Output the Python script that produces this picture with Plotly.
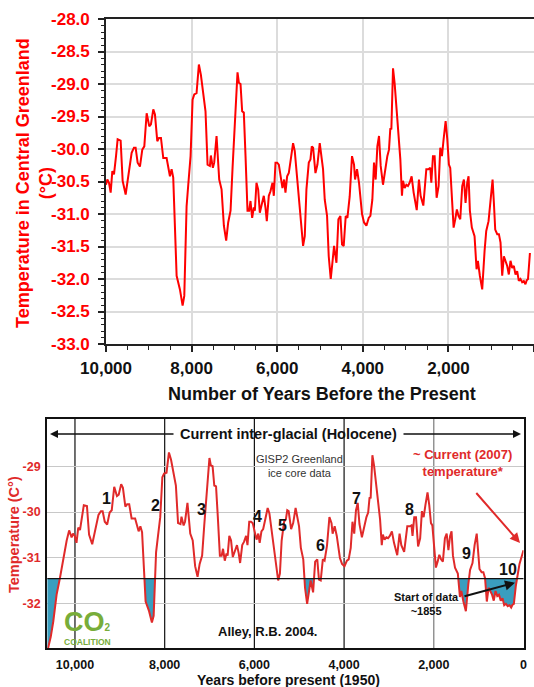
import plotly.graph_objects as go

W, H = 534, 687

# ---------------- data (years before present, temperature in degC) ----------------
YEARS = [10000, 9969, 9930, 9891, 9852, 9813, 9766, 9728, 9658, 9611, 9541, 9455, 9401, 9347,
         9308, 9261, 9207, 9152, 9105, 9050, 8989, 8950, 8895, 8856, 8802, 8763, 8716, 8662,
         8584, 8506, 8467, 8429, 8350, 8273, 8210, 8171, 8117, 8078, 8024, 7977, 7938, 7884,
         7830, 7783, 7729, 7675, 7627, 7573, 7550, 7503, 7472, 7417, 7355, 7300, 7246, 7192,
         7145, 7090, 7043, 7005, 6966, 6927, 6896, 6857, 6819, 6780, 6740, 6694, 6655, 6624,
         6585, 6546, 6522, 6484, 6445, 6406, 6367, 6313, 6274, 6243, 6196, 6157, 6110, 6079,
         6040, 6001, 5962, 5916, 5877, 5838, 5807, 5768, 5729, 5683, 5629, 5590, 5535, 5481,
         5434, 5395, 5356, 5317, 5262, 5223, 5192, 5161, 5106, 5060, 5006, 4967, 4929, 4889,
         4835, 4796, 4749, 4695, 4671, 4616, 4570, 4523, 4485, 4446, 4399, 4360, 4306, 4252,
         4205, 4181, 4135, 4088, 4018, 3971, 3916, 3862, 3823, 3777, 3738, 3699, 3660, 3621,
         3582, 3528, 3473, 3427, 3388, 3357, 3333, 3294, 3256, 3201, 3170, 3123, 3085, 3061,
         3022, 2983, 2945, 2906, 2859, 2812, 2740, 2688, 2649, 2586, 2516, 2462, 2423, 2399,
         2361, 2322, 2275, 2229, 2190, 2151, 2112, 2065, 2026, 1988, 1957, 1918, 1878, 1840,
         1802, 1763, 1723, 1677, 1638, 1599, 1561, 1529, 1498, 1452, 1389, 1342, 1311, 1265,
         1210, 1155, 1116, 1062, 1015, 968, 937, 906, 859, 820, 782, 743, 704, 673, 626, 588,
         549, 510, 471, 432, 393, 355, 316, 276, 238, 200, 170, 140, 120, 95]
TEMPS = [-30.55, -30.47, -30.52, -30.67, -30.34, -30.39, -30.11, -29.85, -29.87, -30.49, -30.70,
         -30.26, -30.06, -29.98, -29.98, -30.21, -30.27, -30.01, -29.96, -29.45, -29.65, -29.62,
         -29.39, -29.47, -29.88, -29.83, -29.83, -30.14, -30.14, -30.42, -30.31, -30.44, -31.95,
         -32.16, -32.41, -32.26, -30.88, -30.55, -30.11, -29.24, -29.16, -29.14, -28.70, -28.86,
         -29.19, -29.42, -30.24, -30.26, -30.10, -30.29, -30.21, -29.80, -30.47, -30.62, -31.18,
         -31.41, -31.13, -30.95, -30.29, -29.80, -29.14, -28.82, -28.98, -29.00, -29.42, -29.44,
         -30.11, -30.95, -30.95, -30.80, -31.06, -30.90, -30.95, -30.52, -30.62, -30.98, -30.87,
         -30.72, -30.90, -31.11, -30.72, -30.65, -30.52, -30.72, -30.21, -30.21, -30.24, -30.44,
         -30.60, -30.47, -30.67, -30.42, -30.37, -30.16, -29.91, -30.03, -30.47, -30.83, -31.24,
         -31.49, -31.34, -30.62, -30.21, -30.16, -29.96, -29.98, -30.37, -30.24, -29.91, -30.14,
         -30.31, -30.78, -31.03, -31.65, -32.00, -31.65, -31.49, -31.75, -31.08, -31.03, -31.47,
         -31.49, -31.03, -31.06, -30.73, -30.11, -30.24, -30.47, -30.31, -30.52, -31.00, -31.13,
         -31.18, -31.06, -31.03, -30.78, -30.21, -30.47, -29.96, -29.80, -30.26, -30.55, -30.29,
         -30.11, -30.01, -29.68, -29.70, -28.76, -28.99, -29.50, -29.70, -30.16, -30.72, -30.49,
         -30.60, -30.55, -30.57, -30.52, -30.42, -30.67, -30.94, -30.47, -30.72, -30.87, -30.31,
         -30.31, -30.29, -30.52, -30.11, -30.11, -30.75, -30.57, -29.98, -30.11, -29.85, -29.57,
         -29.85, -30.24, -30.29, -30.78, -31.21, -31.08, -30.93, -31.03, -31.08, -30.57, -30.47,
         -30.83, -30.52, -30.42, -30.95, -31.21, -31.34, -31.85, -31.72, -31.95, -32.16, -31.57,
         -31.26, -31.11, -30.72, -30.47, -30.83, -31.24, -31.31, -31.31, -31.44, -31.95, -31.65,
         -31.72, -31.80, -31.93, -31.72, -31.83, -31.80, -31.93, -31.88, -32.03, -32.00, -32.05,
         -32.03, -32.08, -32.02, -32.00, -31.85, -31.60]

# bottom chart (Alley 2004 original): extra start of the interglacial and modern end
EARLY_YEARS = [10620, 10540, 10483, 10408, 10334, 10260, 10185, 10130]
EARLY_TEMPS = [-33.05, -32.72, -32.38, -31.79, -31.43, -30.99, -30.62, -30.40]
BOTTOM_SHIFT = 75
END_YEARS = [89, 0]
END_TEMPS = [-31.13, -30.83]
CURRENT_YEAR = [-57]
CURRENT_TEMP = [-30.80]
THRESHOLD = -31.45

TOP_XTICKS = [10000, 8000, 6000, 4000, 2000, 0]
TOP_XLABELS = ["10,000", "8,000", "6,000", "4,000", "2,000", "0"]
TOP_YTICKS = [-28.0, -28.5, -29.0, -29.5, -30.0, -30.5, -31.0, -31.5, -32.0, -32.5, -33.0]
TOP_YLABELS = ["-28.0", "-28.5", "-29.0", "-29.5", "-30.0", "-30.5", "-31.0", "-31.5",
               "-32.0", "-32.5", "-33.0"]
BOT_XTICKS = [10000, 8000, 6000, 4000, 2000, 0]
BOT_XLABELS = ["10,000", "8,000", "6,000", "4,000", "2,000", "0"]
BOT_YTICKS = [-29, -30, -31, -32]
BOT_YLABELS = ["-29", "-30", "-31", "-32"]
VLINE_YEARS = [10000, 8000, 6000, 4000, 2000]
VLINE_COLORS = ["#111111", "#111111", "#111111", "#111111", "#7a7a7a"]
EVENT_LABELS = ["1", "2", "3", "4", "5", "6", "7", "8", "9", "10"]

assert len(YEARS) == len(TEMPS)

# ---------------- helpers ----------------
def px(x):
    return x / W


def py(y):
    return 1 - y / H


def arrow(head, tail, color, width):
    return dict(text="", xref="paper", yref="paper", x=px(head[0]), y=py(head[1]),
                axref="pixel", ayref="pixel", ax=tail[0] - head[0], ay=tail[1] - head[1],
                showarrow=True, arrowhead=2, arrowsize=1, arrowwidth=width,
                arrowcolor=color)


def label(text, x, y, size, color="#111111", angle=0):
    return dict(text=text, xref="paper", yref="paper", x=px(x), y=py(y), showarrow=False,
                textangle=angle, font=dict(family=SANS, size=size, color=color),
                xanchor="center", yanchor="middle")


def clip_below(xs, ys, thr):
    fx, fy = [], []
    for i in range(len(xs)):
        if i > 0:
            y0, y1 = ys[i - 1], ys[i]
            if (y0 - thr) * (y1 - thr) < 0:
                t = (thr - y0) / (y1 - y0)
                fx.append(xs[i - 1] + t * (xs[i] - xs[i - 1]))
                fy.append(thr)
        fx.append(xs[i])
        fy.append(min(ys[i], thr))
    return fx, fy


RED_TOP = "#ff0000"
RED_BOT = "#e02a2a"
TEAL = "#3a9ebf"
SANS = "Liberation Sans, Arial"

fig = go.Figure()

# ---------------- top chart ----------------
fig.add_trace(go.Scatter(x=YEARS, y=TEMPS, mode="lines", xaxis="x", yaxis="y",
                         line=dict(color=RED_TOP, width=2), showlegend=False,
                         hoverinfo="skip"))

# ---------------- bottom chart ----------------
bx = EARLY_YEARS + [yr + BOTTOM_SHIFT for yr in YEARS] + END_YEARS
by = EARLY_TEMPS + TEMPS + END_TEMPS
fx, fy = clip_below(bx, by, THRESHOLD)

fig.add_trace(go.Scatter(x=fx, y=[THRESHOLD] * len(fx), mode="lines", xaxis="x2", yaxis="y2",
                         line=dict(width=0, color=TEAL), showlegend=False, hoverinfo="skip"))
fig.add_trace(go.Scatter(x=fx, y=fy, mode="lines", xaxis="x2", yaxis="y2", fill="tonexty",
                         fillcolor=TEAL, line=dict(width=0, color=TEAL), showlegend=False,
                         hoverinfo="skip"))
fig.add_trace(go.Scatter(x=bx, y=by, mode="lines", xaxis="x2", yaxis="y2",
                         line=dict(color=RED_BOT, width=2), showlegend=False, hoverinfo="skip"))
fig.add_trace(go.Scatter(x=CURRENT_YEAR, y=CURRENT_TEMP, mode="markers", xaxis="x2", yaxis="y2",
                         marker=dict(color=RED_BOT, size=11), cliponaxis=False,
                         showlegend=False, hoverinfo="skip"))

shapes = []
for yr, col in zip(VLINE_YEARS, VLINE_COLORS):
    shapes.append(dict(type="line", xref="x2", yref="y2 domain", x0=yr, x1=yr, y0=0, y1=1,
                       line=dict(color=col, width=1.2), layer="below"))
shapes.append(dict(type="line", xref="x2 domain", yref="y2", x0=0, x1=1, y0=THRESHOLD,
                   y1=THRESHOLD, line=dict(color="#111111", width=1.2), layer="above"))

annotations = []
# top titles
annotations.append(label("<b>Temperature in Central Greenland<br>(°C)</b>", 34, 183, 18,
                         RED_TOP, -90))
annotations.append(label("<b>Number of Years Before the Present</b>", 322, 394, 18))
# bottom titles
annotations.append(label("<b>Temperature (C°)</b>", 14, 535, 14.5, RED_BOT, -90))
annotations.append(label("<b>Years before present (1950)</b>", 288, 679.5, 14))
# holocene arrow
annotations.append(arrow((50, 434), (175, 434), "#111111", 1.6))
annotations.append(arrow((521, 434), (402, 434), "#111111", 1.6))
annotations.append(label("<b>Current inter-glacial (Holocene)</b>", 288, 434, 14.5))
annotations.append(label("GISP2 Greenland<br>ice core data", 299, 466, 11, "#333333"))
# event numbers
EVENT_POS = [(106.6, 498.6), (155.7, 505), (201, 509.5), (257, 516), (282, 525), (320, 545),
             (356, 499), (409, 509), (466.7, 553.3), (508.3, 569.3)]
for lab, (ex, ey) in zip(EVENT_LABELS, EVENT_POS):
    annotations.append(label("<b>" + lab + "</b>", ex, ey, 16))
# current temperature
annotations.append(label("<b>~ Current (2007)<br>temperature*</b>", 462, 463, 13, RED_BOT))
annotations.append(arrow((520, 543), (475, 491.5), RED_BOT, 2))
# start of data
annotations.append(label("<b>Start of data<br>~1855</b>", 426, 604, 11))
annotations.append(arrow((515, 582.7), (463, 596.7), "#111111", 2))
# reference
annotations.append(label("<b>Alley, R.B. 2004.</b>", 267, 631, 13))
# CO2 coalition logo (as text)
GREEN = "#78ad3a"
annotations.append(label("<b>CO<span style='font-size:10px'>2</span></b>", 87, 621.5, 27,
                         GREEN))
annotations.append(label("<b>COALITION</b>", 87, 642, 8.5, GREEN))

fig.update_layout(
    width=W, height=H, margin=dict(l=0, r=0, t=0, b=0, autoexpand=False),
    paper_bgcolor="white", plot_bgcolor="white", showlegend=False,
    xaxis=dict(domain=[px(106), 1.0], range=[10000, 0], anchor="y", automargin=False,
               tickmode="array", tickvals=TOP_XTICKS, ticktext=TOP_XLABELS,
               ticks="outside", ticklen=6, tickwidth=1.5, tickcolor="#222222",
               ticklabelstandoff=2,
               showline=True, linecolor="#222222", linewidth=1.6, mirror=True,
               showgrid=True, gridcolor="#dcdcdc", gridwidth=1.5, zeroline=False,
               minor=dict(tickmode="linear", tick0=0, dtick=500, ticks="outside", ticklen=4,
                          tickwidth=1.2, tickcolor="#222222", showgrid=False),
               tickfont=dict(family=SANS, size=17, color="#111111", weight="bold")),
    yaxis=dict(domain=[py(344), py(19)], range=[-33, -28], anchor="x", automargin=False,
               tickmode="array", tickvals=TOP_YTICKS, ticktext=TOP_YLABELS,
               ticks="outside", ticklen=6, tickwidth=1.5, tickcolor="#222222",
               ticklabelstandoff=5,
               showline=True, linecolor="#222222", linewidth=1.6,
               showgrid=True, gridcolor="#dcdcdc", gridwidth=1.5, zeroline=False,
               minor=dict(tickmode="linear", tick0=0, dtick=0.1, ticks="outside", ticklen=3.5,
                          tickwidth=1.2, tickcolor="#222222", showgrid=False),
               tickfont=dict(family=SANS, size=17, color=RED_TOP, weight="bold")),
    xaxis2=dict(domain=[px(47.3), px(523.5)], range=[10617, 0], anchor="y2", automargin=False,
                tickmode="array", tickvals=BOT_XTICKS, ticktext=BOT_XLABELS,
                ticks="", ticklabelstandoff=3,
                showline=True, linecolor="#111111", linewidth=2.4, mirror=True,
                showgrid=False, zeroline=False,
                tickfont=dict(family=SANS, size=12.5, color="#111111", weight="bold")),
    yaxis2=dict(domain=[py(648.3), py(419)], range=[-32.97, -27.97], anchor="x2",
                automargin=False,
                tickmode="array", tickvals=BOT_YTICKS, ticktext=BOT_YLABELS,
                ticks="", ticklabelstandoff=2,
                showline=True, linecolor="#111111", linewidth=2.4, mirror=True,
                showgrid=True, gridcolor="#c8c8c8", gridwidth=1, zeroline=False,
                tickfont=dict(family=SANS, size=12.5, color=RED_BOT, weight="bold")),
    shapes=shapes,
    annotations=annotations,
)

fig.write_html("out.html")
